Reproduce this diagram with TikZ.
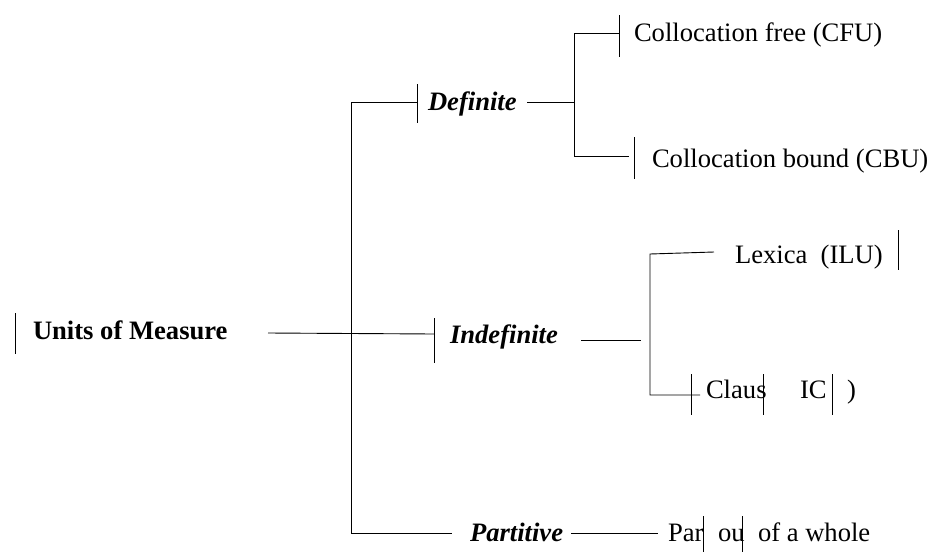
\documentclass[tikz,border=0pt]{standalone}
\usepackage{fontspec}
\setmainfont{Liberation Serif}
\begin{document}
\begin{tikzpicture}[x=1pt,y=-1pt,
  wire/.style={line width=0.9pt},
  lbl/.style={anchor=base west, inner sep=0pt, outer sep=0pt,
              font=\fontsize{26.6}{30}\selectfont},
  head/.style={lbl, font=\fontsize{26.6}{30}\selectfont\bfseries},
  cat/.style={lbl, font=\fontsize{26.6}{30}\selectfont\bfseries\itshape}]
\useasboundingbox (0,0) rectangle (927,552);

% --- text
\node[head] (units) at (33,339) {Units of Measure};
\node[cat]  (def)   at (428,110) {Definite};
\node[cat]  (indef) at (450,343) {Indefinite};
\node[cat]  (part)  at (470,541) {Partitive};
\node[lbl]  (cfu)   at (634,41)  {Collocation free (CFU)};
\node[lbl]  (cbu)   at (652,167) {Collocation bound (CBU)};
\node[lbl]  (ilu)   at (735,263) {Lexica\ \ (ILU)};
\node[lbl]  (icA)   at (706,398) {Claus};
\node[lbl]  (icB)   at (800,398) {IC};
\node[lbl]  (icC)   at (847,398) {)};
\node[lbl]  (pwA)   at (668,541) {Par};
\node[lbl]  (pwB)   at (718,541) {ou};
\node[lbl]  (pwC)   at (758,541) {of a whole};

% --- junction points
\coordinate (uStart) at (268,333);
\coordinate (uEnd)   at (434,334);
\coordinate (trTop)  at (351,102);
\coordinate (trBot)  at (351,533);
\coordinate (defIn)  at (417,102);
\coordinate (defOut) at (527,102);
\coordinate (dvTop)  at (574,33);
\coordinate (dvMid)  at (574,102);
\coordinate (dvBot)  at (574,156);
\coordinate (cfuIn)  at (619,33);
\coordinate (cbuIn)  at (629,156);
\coordinate (indOut) at (581,340);
\coordinate (ivMid)  at (641,340);
\coordinate (ivTop)  at (650,254);
\coordinate (ivBot)  at (650,395);
\coordinate (iluIn)  at (714,252);
\coordinate (icIn)   at (700,395);
\coordinate (ptIn)   at (452,533);
\coordinate (ptOut)  at (571,533);
\coordinate (pwIn)   at (658,533);

% --- tree lines
\draw[wire] (uStart) -- (uEnd);
\draw[wire] (trTop) -- (trBot);
\draw[wire] (trTop) -- (defIn);
\draw[wire] (trBot) -- (ptIn);
\draw[wire] (defOut) -- (dvMid);
\draw[wire] (cfuIn) -- (dvTop) -- (dvBot) -- (cbuIn);
\draw[wire] (indOut) -- (ivMid);
\draw[wire] (iluIn) -- (ivTop) -- (ivBot) -- (icIn);
\draw[wire] (ptOut) -- (pwIn);

% --- short vertical bars
\draw[wire] (15,313)  -- (15,354);
\draw[wire] (434,318) -- (434,363);
\draw[wire] (417,84)  -- (417,123);
\draw[wire] (619,15)  -- (619,57);
\draw[wire] (634,137) -- (634,179);
\draw[wire] (898,230) -- (898,270);
\draw[wire] (691,374) -- (691,415);
\draw[wire] (763,374) -- (763,415);
\draw[wire] (832,374) -- (832,415);
\draw[wire] (703,516) -- (703,552);
\draw[wire] (742,516) -- (742,552);
\end{tikzpicture}
\end{document}
